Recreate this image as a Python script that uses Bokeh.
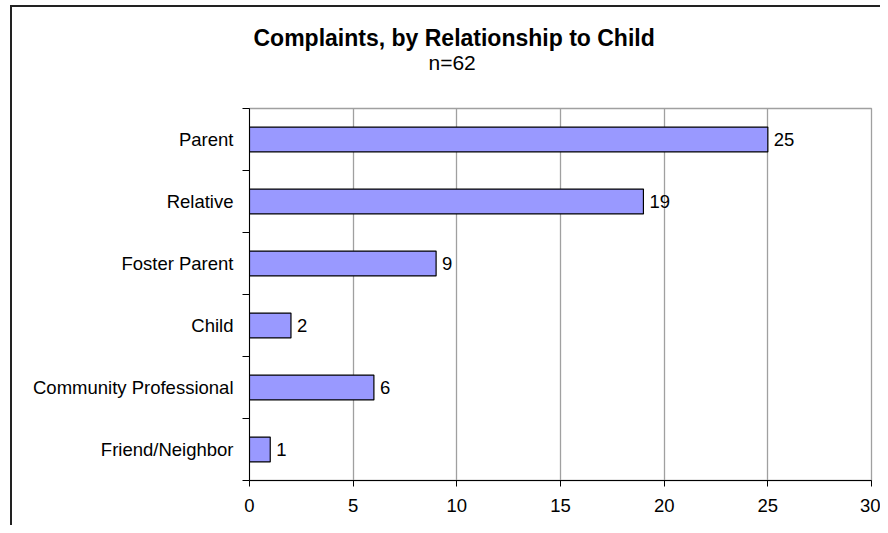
from bokeh.plotting import figure
from bokeh.models import Range1d, FixedTicker, Title, ColumnDataSource
from bokeh.core.properties import value
from bokeh.embed import file_html
from bokeh.resources import INLINE

# ---- data ----
categories = ["Parent", "Relative", "Foster Parent", "Child",
              "Community Professional", "Friend/Neighbor"]
counts = [25, 19, 9, 2, 6, 1]
title_text = "Complaints, by Relationship to Child"
subtitle_text = "n=62"
x_ticks = [0, 5, 10, 15, 20, 25, 30]

FONT = "Liberation Sans"
n = len(categories)
positions = [n - i - 0.5 for i in range(n)]
boundaries = list(range(n + 1))

src = ColumnDataSource(dict(pos=positions, count=counts,
                            label=[str(c) for c in counts]))

p = figure(frame_width=622, frame_height=372,
           x_range=Range1d(x_ticks[0], x_ticks[-1]), y_range=Range1d(0, n),
           output_backend="svg", toolbar_location=None,
           min_border_left=237, min_border_right=9,
           min_border_top=101, min_border_bottom=45)
p.styles = {"margin-left": "10px", "margin-top": "5px",
            "border-left": "2px solid #222", "border-top": "2px solid #222"}

p.outline_line_color = "#a0a0a0"
p.outline_line_width = 1.3
p.background_fill_color = "white"
p.border_fill_color = "white"

p.hbar(y="pos", left=0, right="count", height=0.4, source=src,
       fill_color="#9999FF", line_color="black", line_width=1.2)
p.text(x="count", y="pos", text="label", source=src, x_offset=6,
       text_baseline="middle", text_align="left",
       text_font=value(FONT), text_font_size="18.5px", text_color="black")

# x axis
p.xaxis.ticker = FixedTicker(ticks=x_ticks)
p.xaxis.major_tick_in = 0
p.xaxis.major_tick_out = 6
p.xaxis.minor_tick_out = 0
p.xaxis.minor_tick_in = 0
p.xaxis.axis_line_color = "black"
p.xaxis.major_tick_line_color = "black"
p.xaxis.major_label_text_font = FONT
p.xaxis.major_label_text_font_size = "18.5px"
p.xaxis.major_label_text_color = "black"
p.xaxis.major_label_standoff = 12

# y axis: labels at centers, ticks at boundaries
p.yaxis.ticker = FixedTicker(ticks=positions, minor_ticks=boundaries)
p.yaxis.major_label_overrides = {pp: c for pp, c in zip(positions, categories)}
p.yaxis.major_tick_in = 0
p.yaxis.major_tick_out = 0
p.yaxis.minor_tick_in = 0
p.yaxis.minor_tick_out = 7
p.yaxis.minor_tick_line_color = "black"
p.yaxis.axis_line_color = "black"
p.yaxis.major_label_text_font = FONT
p.yaxis.major_label_text_font_size = "18.5px"
p.yaxis.major_label_text_color = "black"
p.yaxis.major_label_standoff = 9

p.xgrid.grid_line_color = "#a0a0a0"
p.xgrid.grid_line_width = 1.3
p.ygrid.visible = False

p.add_layout(Title(text=subtitle_text, align="left", offset=179,
                   standoff=70, text_font=FONT, text_font_style="normal",
                   text_font_size="21px", text_color="black"), "above")
p.add_layout(Title(text=title_text, align="left", offset=4,
                   standoff=-74, text_font=FONT, text_font_style="bold",
                   text_font_size="23px", text_color="black"), "above")

open("out.html", "w").write(file_html(p, INLINE))
